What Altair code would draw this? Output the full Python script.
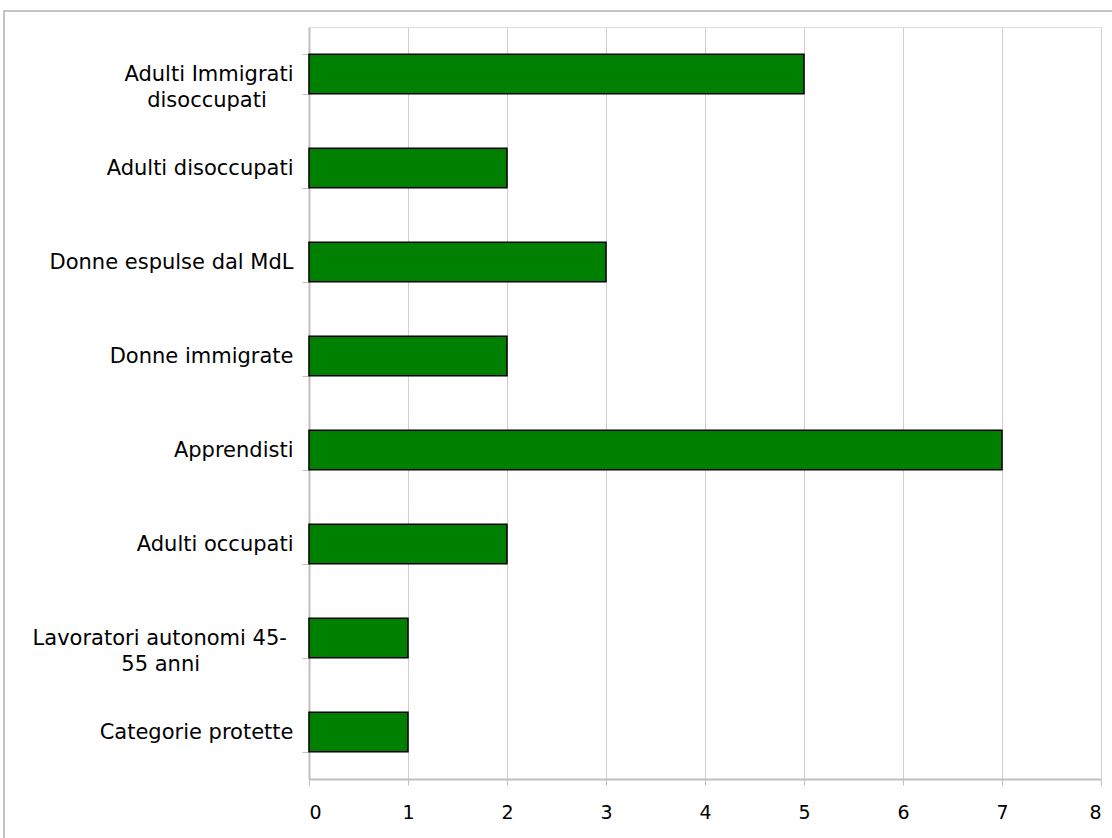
import altair as alt
import pandas as pd

categories = [
    "Adulti Immigrati disoccupati",
    "Adulti disoccupati",
    "Donne espulse dal MdL",
    "Donne immigrate",
    "Apprendisti",
    "Adulti occupati",
    "Lavoratori autonomi 45-55 anni",
    "Categorie protette",
]
values = [5, 2, 3, 2, 7, 2, 1, 1]
x_ticks = [0, 1, 2, 3, 4, 5, 6, 7, 8]

# two-line labels: (first line, second line, spacer count after line 1, after line 2)
wrapped_labels = {
    "Adulti Immigrati disoccupati": ("Adulti Immigrati", "disoccupati", 0, 4),
    "Lavoratori autonomi 45-55 anni": ("Lavoratori autonomi 45-", "55 anni", 1, 14),
}

df = pd.DataFrame({"cat": categories, "val": values})

FONT = "DejaVu Sans"


def pad(text, n):
    if n == 0:
        return text
    return text + "\\u00a0" * n + "\\u200b"


expr_parts = []
for key, (l1, l2, p1, p2) in wrapped_labels.items():
    expr_parts.append(
        f"datum.label == '{key}' ? ['{pad(l1, p1)}', '{pad(l2, p2)}'] : "
    )
label_expr = "".join(expr_parts) + "datum.label"

bars = alt.Chart(df).mark_bar(
    color="#008000", stroke="#000000", strokeWidth=1.5
).encode(
    x=alt.X(
        "val:Q",
        scale=alt.Scale(domain=[0, 8], nice=False),
        axis=alt.Axis(
            values=x_ticks, title=None, grid=True, gridColor="#d0d0d0",
            domainColor="#c0c0c0", domainWidth=2, tickColor="#c0c0c0",
            tickSize=6, labelFontSize=19, labelFont=FONT, labelColor="#000000",
            labelPadding=18, format="d",
        ),
    ),
    y=alt.Y(
        "cat:N",
        sort=categories,
        scale=alt.Scale(paddingInner=0.58, paddingOuter=0.29),
        axis=alt.Axis(
            title=None, tickBand="extent", domainColor="#c0c0c0", domainWidth=2,
            tickColor="#c0c0c0", tickSize=7, labelFontSize=21, labelFont=FONT,
            labelColor="#000000", labelPadding=9, labelExpr=label_expr,
            labelLineHeight=26, labelLimit=400,
        ),
    ),
)

frame = alt.Chart(pd.DataFrame({"k": [0]})).mark_rect(
    fill=None, stroke="#c4c4c4", strokeWidth=2
).encode(
    x=alt.value(-305), x2=alt.value(900), y=alt.value(-16), y2=alt.value(900)
)

chart = alt.layer(frame, bars).properties(
    width=792,
    height=752,
    autosize=alt.AutoSizeParams(type="none"),
    padding={"left": 309, "top": 27, "right": 11, "bottom": 59},
).configure_view(
    stroke="#9a9a9a", strokeWidth=2
).configure(background="#ffffff")

chart.save("out.html", embed_options={"renderer": "svg", "actions": False})
